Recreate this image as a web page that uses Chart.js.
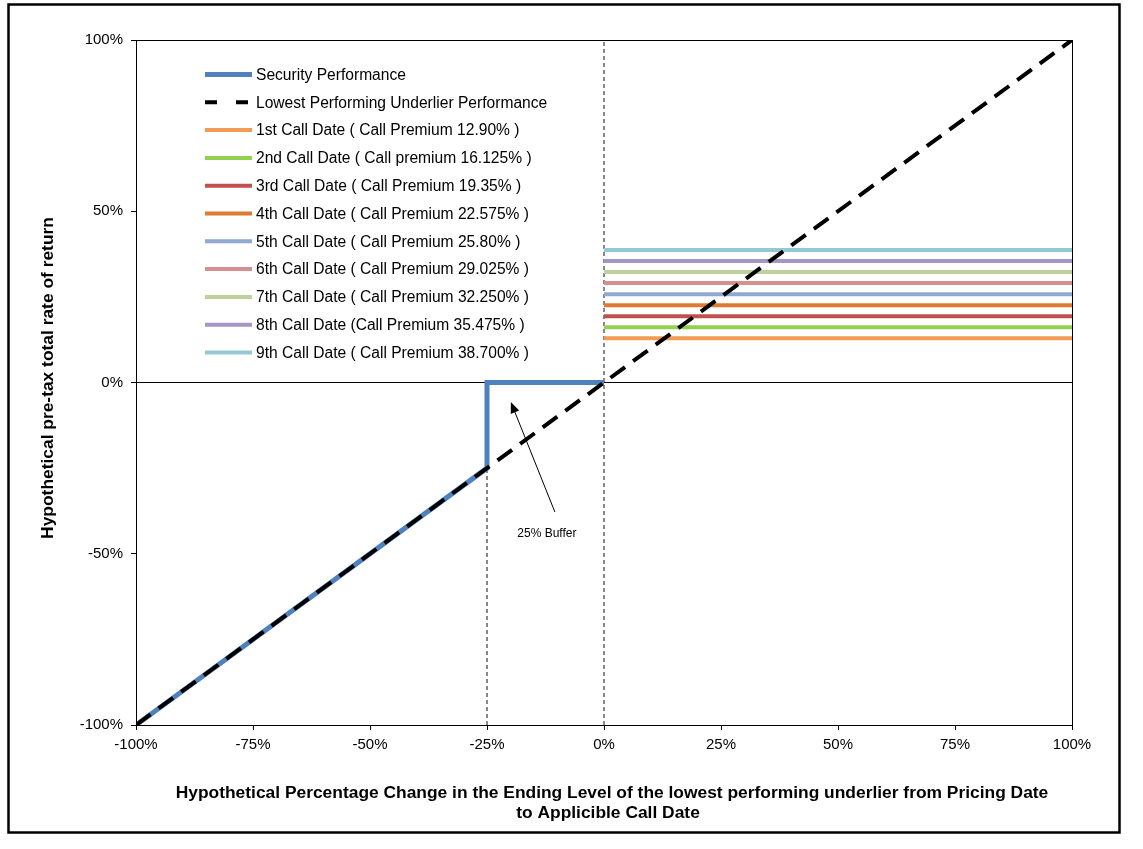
<!DOCTYPE html>
<html>
<head>
<meta charset="utf-8">
<script src="https://cdn.jsdelivr.net/npm/chart.js@4.4.1/dist/chart.umd.min.js"></script>
<style>
  html, body { margin: 0; padding: 0; background: #fff; }
  #wrap { width: 1143px; height: 849px; }
</style>
</head>
<body>
<div id="wrap"><canvas id="payoffChart" width="1143" height="849"></canvas></div>
<script>
/* global Chart */
{
  'use strict';

  // DATA
  const xTickValues = [-100, -75, -50, -25, 0, 25, 50, 75, 100];
  const yTickValues = [-100, -50, 0, 50, 100];

  const securityX = [-100, -25, -25, 0];
  const securityY = [-100, -25, 0, 0];

  const underlierX = [-100, 100];
  const underlierY = [-100, 100];

  const callRange = [0, 100];
  const callLabels = [
    '1st Call Date ( Call Premium 12.90% )',
    '2nd Call Date ( Call premium 16.125% )',
    '3rd Call Date ( Call Premium 19.35% )',
    '4th Call Date ( Call Premium 22.575% )',
    '5th Call Date ( Call Premium 25.80% )',
    '6th Call Date ( Call Premium 29.025% )',
    '7th Call Date ( Call Premium 32.250% )',
    '8th Call Date (Call Premium 35.475% )',
    '9th Call Date ( Call Premium 38.700% )'
  ];
  const callPremiums = [12.9, 16.125, 19.35, 22.575, 25.8, 29.025, 32.25, 35.475, 38.7];

  const bufferLevel = -25;
  const bufferLabel = '25% Buffer';
  const bufferArrowFrom = [-10.5, -37.8];
  const bufferArrowTo = [-19.9, -5.7];
  const bufferTextAt = [-12.2, -44];

  const xTitle = ['Hypothetical Percentage Change in the Ending Level of the lowest performing underlier from Pricing Date',
    'to Applicible Call Date'];
  const yTitle = 'Hypothetical pre-tax total rate of return';

  // STYLE
  const callColors = ['#F39A55', '#92D050', '#C0504D', '#DD7B34', '#8FA9CF',
    '#D59090', '#BDD19C', '#A597C4', '#93C8D4'];
  const font = 'Liberation Sans, Arial, sans-serif';

  const fmtPct = function (v) { return v + '%'; };
  const toPoints = function (xs, ys) {
    return xs.map(function (x, i) { return {x: x, y: ys[i]}; });
  };

  const datasets = [];

  datasets.push({
    label: 'Security Performance',
    data: toPoints(securityX, securityY),
    borderColor: '#4F81BD',
    borderWidth: 5,
    borderJoinStyle: 'miter',
    order: 1
  });

  datasets.push({
    label: 'Lowest Performing Underlier Performance',
    data: toPoints(underlierX, underlierY),
    borderColor: '#000',
    borderWidth: 4,
    borderDash: [18, 10],
    legendDash: [12, 19],
    order: 0
  });

  callPremiums.forEach(function (p, i) {
    datasets.push({
      label: callLabels[i],
      data: toPoints(callRange, [p, p]),
      borderColor: callColors[i],
      borderWidth: 4,
      order: 2
    });
  });

  // vertical guides at 0% and at the buffer level
  datasets.push({
    label: 'guide0',
    data: toPoints([0, 0], [-100, 100]),
    borderColor: '#111',
    borderWidth: 1,
    borderDash: [4, 3],
    hideInLegend: true,
    order: 3
  });
  datasets.push({
    label: 'guideBuffer',
    data: toPoints([bufferLevel, bufferLevel], [-100, 0]),
    borderColor: '#111',
    borderWidth: 1,
    borderDash: [4, 3],
    hideInLegend: true,
    order: 3
  });

  // frame, plot border, titles, inside legend, buffer note
  const extras = {
    id: 'extras',
    beforeDraw: function (chart) {
      const c = chart.ctx;
      c.save();
      c.fillStyle = '#fff';
      c.fillRect(0, 0, chart.width, chart.height);
      c.restore();
    },
    afterDraw: function (chart) {
      const c = chart.ctx;
      const area = chart.chartArea;
      const xs = chart.scales.x;
      const ys = chart.scales.y;

      c.save();
      // plot border
      c.strokeStyle = '#000';
      c.lineWidth = 1;
      c.strokeRect(Math.round(area.left) + 0.5, Math.round(area.top) + 0.5,
        Math.round(area.right - area.left), Math.round(area.bottom - area.top));

      // outer frame
      c.lineWidth = 2.5;
      c.strokeRect(8.5, 4.5, 1111, 828);

      // axis titles
      c.fillStyle = '#000';
      c.font = 'bold 17.4px ' + font;
      c.textAlign = 'center';
      c.textBaseline = 'middle';
      c.fillText(xTitle[0], 612, 793);
      c.fillText(xTitle[1], 608, 813);
      c.save();
      c.translate(48, 378);
      c.rotate(-Math.PI / 2);
      c.fillText(yTitle, 0, 0);
      c.restore();

      // legend
      let rowY = 74.5;
      const rowGap = 27.8;
      c.font = '15.6px ' + font;
      c.textAlign = 'left';
      c.textBaseline = 'middle';
      chart.data.datasets.forEach(function (ds) {
        if (ds.hideInLegend) return;
        c.beginPath();
        c.strokeStyle = ds.borderColor;
        c.lineWidth = ds.borderWidth;
        c.setLineDash(ds.legendDash || []);
        c.lineCap = 'butt';
        c.moveTo(205, rowY);
        c.lineTo(252, rowY);
        c.stroke();
        c.setLineDash([]);
        c.fillText(ds.label, 256, rowY + 1);
        rowY += rowGap;
      });

      // buffer arrow
      const ax0 = xs.getPixelForValue(bufferArrowFrom[0]);
      const ay0 = ys.getPixelForValue(bufferArrowFrom[1]);
      const ax1 = xs.getPixelForValue(bufferArrowTo[0]);
      const ay1 = ys.getPixelForValue(bufferArrowTo[1]);
      const ang = Math.atan2(ay1 - ay0, ax1 - ax0);
      const head = 11;
      c.strokeStyle = '#000';
      c.lineWidth = 1;
      c.beginPath();
      c.moveTo(ax0, ay0);
      c.lineTo(ax1 - Math.cos(ang) * head * 0.8, ay1 - Math.sin(ang) * head * 0.8);
      c.stroke();
      c.beginPath();
      c.moveTo(ax1, ay1);
      c.lineTo(ax1 - head * Math.cos(ang) + 4.5 * Math.sin(ang), ay1 - head * Math.sin(ang) - 4.5 * Math.cos(ang));
      c.lineTo(ax1 - head * Math.cos(ang) - 4.5 * Math.sin(ang), ay1 - head * Math.sin(ang) + 4.5 * Math.cos(ang));
      c.closePath();
      c.fillStyle = '#000';
      c.fill();

      c.font = '12px ' + font;
      c.textAlign = 'center';
      c.fillText(bufferLabel, xs.getPixelForValue(bufferTextAt[0]), ys.getPixelForValue(bufferTextAt[1]));
      c.restore();
    }
  };

  const ctx = document.getElementById('payoffChart').getContext('2d');

  const chart = new Chart(ctx, {
    type: 'line',
    data: {datasets: datasets},
    plugins: [extras],
    options: {
      responsive: false,
      animation: false,
      devicePixelRatio: 1,
      layout: {padding: {left: 0, top: 40, right: 71, bottom: 0}},
      elements: {
        point: {radius: 0, hoverRadius: 0},
        line: {tension: 0, fill: false, borderCapStyle: 'butt'}
      },
      plugins: {
        legend: {display: false},
        tooltip: {enabled: false}
      },
      scales: {
        x: {
          type: 'linear',
          min: -100,
          max: 100,
          afterBuildTicks: function (scale) {
            scale.ticks = xTickValues.map(function (v) { return {value: v}; });
          },
          afterFit: function (scale) { scale.height = 124; },
          ticks: {
            callback: fmtPct,
            color: '#000',
            font: {family: font, size: 15},
            padding: 6,
            maxRotation: 0
          },
          grid: {
            drawOnChartArea: false,
            tickLength: 5,
            tickColor: '#000'
          },
          border: {display: false}
        },
        y: {
          type: 'linear',
          min: -100,
          max: 100,
          afterBuildTicks: function (scale) {
            scale.ticks = yTickValues.map(function (v) { return {value: v}; });
          },
          afterFit: function (scale) { scale.width = 136; },
          ticks: {
            callback: fmtPct,
            color: '#000',
            font: {family: font, size: 15},
            padding: 8
          },
          grid: {
            color: function (c) { return c.tick && c.tick.value === 0 ? '#000' : 'rgba(0,0,0,0)'; },
            lineWidth: 1,
            tickLength: 5,
            tickColor: '#000'
          },
          border: {display: false}
        }
      }
    }
  });

  console.log(chart);
}
</script>
</body>
</html>
